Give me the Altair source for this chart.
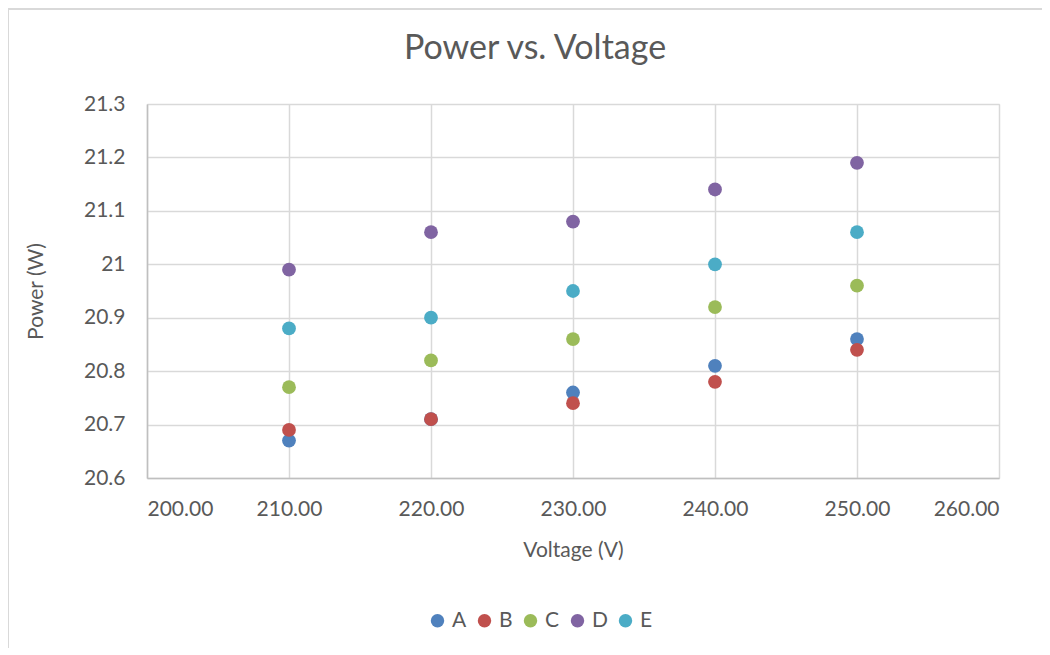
import altair as alt
import pandas as pd

voltages = [210, 220, 230, 240, 250]
series_names = ["A", "B", "C", "D", "E"]
power_A = [20.67, 20.71, 20.76, 20.81, 20.86]
power_B = [20.69, 20.71, 20.74, 20.78, 20.84]
power_C = [20.77, 20.82, 20.86, 20.92, 20.96]
power_D = [20.99, 21.06, 21.08, 21.14, 21.19]
power_E = [20.88, 20.90, 20.95, 21.00, 21.06]
colors = ["#4F81BD", "#C0504D", "#9BBB59", "#8064A2", "#4BACC6"]
x_ticks = [200, 210, 220, 230, 240, 250, 260]
y_ticks = [20.6, 20.7, 20.8, 20.9, 21.0, 21.1, 21.2, 21.3]

rows = []
for name, vals in zip(series_names, [power_A, power_B, power_C, power_D, power_E]):
    for v, p in zip(voltages, vals):
        rows.append({"Voltage": v, "Power": p, "Series": name})
df = pd.DataFrame(rows)

FONT = "Lato"
TXT = "#595959"

points = alt.Chart(df).mark_circle(size=190, opacity=1).encode(
    x=alt.X("Voltage:Q",
            scale=alt.Scale(domain=[200, 260], nice=False, zero=False),
            axis=alt.Axis(values=x_ticks, format=".2f", title="Voltage (V)",
                          grid=True, gridColor="#D9D9D9", gridWidth=1.5,
                          domainColor="#BFBFBF", domainWidth=1.5, ticks=False,
                          labelFontSize=21, labelColor=TXT, labelFont=FONT,
                          labelPadding=20, titleFontSize=21, titleColor=TXT,
                          titleFont=FONT, titleFontWeight="normal", titlePadding=20)),
    y=alt.Y("Power:Q",
            scale=alt.Scale(domain=[20.6, 21.3], nice=False, zero=False),
            axis=alt.Axis(values=y_ticks, format="~g", title="Power (W)",
                          grid=True, gridColor="#D9D9D9", gridWidth=1.5,
                          domainColor="#BFBFBF", domainWidth=1.5, ticks=False,
                          labelFontSize=21, labelColor=TXT, labelFont=FONT,
                          labelPadding=22, titleFontSize=21, titleColor=TXT,
                          titleFont=FONT, titleFontWeight="normal", titlePadding=37)),
    color=alt.Color("Series:N",
                    scale=alt.Scale(domain=series_names, range=colors),
                    legend=alt.Legend(orient="none", direction="horizontal",
                                      legendX=280, legendY=506, title=None,
                                      symbolType="circle", symbolSize=180,
                                      symbolStrokeWidth=0, labelFontSize=21,
                                      labelColor=TXT, labelFont=FONT,
                                      labelOffset=4, columnPadding=7)),
)

border = alt.Chart(pd.DataFrame({"a": [0]})).mark_rule(color="#D9D9D9", strokeWidth=2, clip=False).encode(
    x=alt.value(-139), y=alt.value(-96), y2=alt.value(560)
)
border_top = alt.Chart(pd.DataFrame({"a": [0]})).mark_rule(color="#D9D9D9", strokeWidth=2, clip=False).encode(
    x=alt.value(-139), x2=alt.value(900), y=alt.value(-95)
)

chart = alt.layer(border, border_top, points).properties(
    width=852, height=374,
    title=alt.TitleParams("Power vs. Voltage", fontSize=34, font=FONT, color=TXT,
                          fontWeight="normal", anchor="middle", dx=-38,
                          baseline="alphabetic", offset=-86),
    autosize=alt.AutoSizeParams(type="none"),
    padding={"left": 139, "top": 96, "right": 43, "bottom": 170},
).configure_view(stroke=None).configure(background="white")

chart.save("out.html", embed_options={"renderer": "svg", "actions": False})
